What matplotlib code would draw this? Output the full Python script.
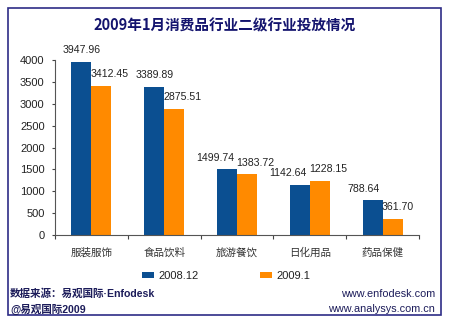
import numpy as np
import matplotlib.pyplot as plt
from matplotlib.patches import Rectangle

plt.rcParams['font.family'] = ['Liberation Sans', 'Noto Sans CJK SC']

# data
categories = ['服装服饰', '食品饮料', '旅游餐饮', '日化用品', '药品保健']
dec2008 = [3947.96, 3389.89, 1499.74, 1142.64, 788.64]
jan2009 = [3412.45, 2875.51, 1383.72, 1228.15, 361.70]
series_names = ['2008.12', '2009.1']
yticks = [0, 500, 1000, 1500, 2000, 2500, 3000, 3500, 4000]
# blue labels: centred over the bar or pushed left to avoid the orange label
blue_align = ['center', 'center', 'right', 'right', 'right']

BLUE = '#0B4F91'
ORANGE = '#FF8A00'
NAVY = '#2E2C86'
FOOT = '#1C1C5A'

fig = plt.figure(figsize=(4.5, 3.24), dpi=100)
fig.patch.set_facecolor('white')

# outer frame
fig.add_artist(Rectangle((8/450, 1-315/324), 433/450, 307/324, transform=fig.transFigure,
                         fill=False, edgecolor=NAVY, linewidth=1.2))

fig.text(225/450, 1-25/324, '2009年1月消费品行业二级行业投放情况', ha='center', va='center',
         fontsize=10.5, fontweight='bold', color='#14146E', family=['Noto Sans CJK SC'])

ax = fig.add_axes([55/450, 1-235/324, 364/450, 175/324])
x = np.arange(len(categories))
w = 0.275
b1 = ax.bar(x - w/2, dec2008, w, color=BLUE, label=series_names[0])
b2 = ax.bar(x + w/2, jan2009, w, color=ORANGE, label=series_names[1])

for i in range(len(categories)):
    if blue_align[i] == 'center':
        ax.annotate(f'{dec2008[i]:.2f}', (x[i] - w/2, dec2008[i]), xytext=(0, 8.5),
                    textcoords='offset points', ha='center', va='center', fontsize=7.6,
                    color='#222222')
    else:
        ax.annotate(f'{dec2008[i]:.2f}', (x[i], dec2008[i]), xytext=(-2, 8.5),
                    textcoords='offset points', ha='right', va='center', fontsize=7.6,
                    color='#222222')
    ax.annotate(f'{jan2009[i]:.2f}', (x[i], jan2009[i]), xytext=(-0.5, 8.5),
                textcoords='offset points', ha='left', va='center', fontsize=7.6,
                color='#222222')

ax.set_xlim(-0.5, len(categories) - 0.5)
ax.set_ylim(0, 4000)
ax.set_yticks(yticks)
ax.tick_params(axis='y', labelsize=8, length=2.5, pad=5, color='#444444', labelcolor='#222222')
ax.set_xticks(np.arange(len(categories) + 1) - 0.5)
ax.set_xticklabels([])
ax.tick_params(axis='x', length=3, color='#444444')
for i, c in enumerate(categories):
    ax.text(x[i], -0.1, c, transform=ax.get_xaxis_transform(), ha='center', va='center',
            fontsize=7.6, color='#333333')
for s in ['top', 'right']:
    ax.spines[s].set_visible(False)
for s in ['left', 'bottom']:
    ax.spines[s].set_color('#555555')
    ax.spines[s].set_linewidth(0.8)

leg = fig.legend(handles=[b1, b2], loc='center', bbox_to_anchor=(226/450, 1-276/324), ncol=2,
                 frameon=False, fontsize=8, handlelength=1.1, handleheight=0.5,
                 handletextpad=0.4, columnspacing=5.5)
for t in leg.get_texts():
    t.set_color('#222222')

fig.text(10/450, 1-294/324, '数据来源：易观国际·Enfodesk', ha='left', va='center', fontsize=7.6,
         color=FOOT, fontweight='bold')
fig.text(10/450, 1-309/324, '@易观国际2009', ha='left', va='center', fontsize=7.6,
         color=FOOT, fontweight='bold')
fig.text(435/450, 1-294/324, 'www.enfodesk.com', ha='right', va='center', fontsize=7.8,
         color=FOOT)
fig.text(435/450, 1-309/324, 'www.analysys.com.cn', ha='right', va='center', fontsize=7.8,
         color=FOOT)

fig.savefig('out.png', dpi=100)
